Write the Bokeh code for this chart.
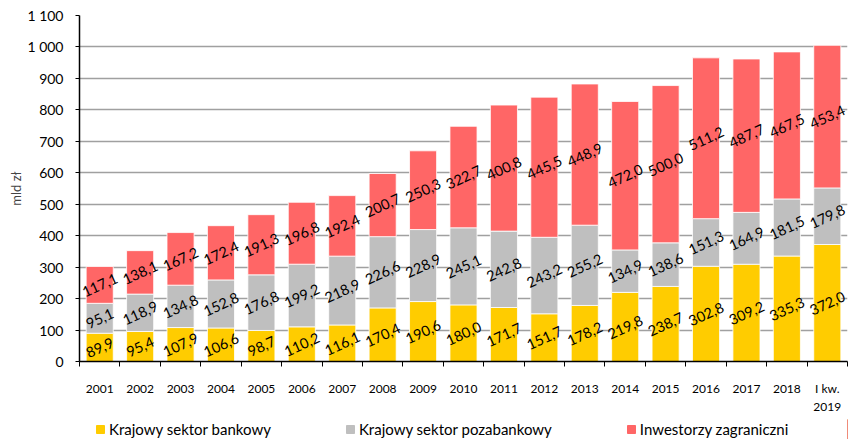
from bokeh.plotting import figure
from bokeh.layouts import column
from bokeh.models import (ColumnDataSource, FixedTicker, Legend, LegendItem,
                          CustomJSTickFormatter, Range1d)
from bokeh.core.properties import value
from bokeh.embed import file_html
from bokeh.resources import INLINE

years = ["2001", "2002", "2003", "2004", "2005", "2006", "2007", "2008", "2009",
         "2010", "2011", "2012", "2013", "2014", "2015", "2016", "2017", "2018",
         "I kw.\n2019"]
bank = [89.9, 95.4, 107.9, 106.6, 98.7, 110.2, 116.1, 170.4, 190.6, 180.0,
        171.7, 151.7, 178.2, 219.8, 238.7, 302.8, 309.2, 335.3, 372.0]
nonbank = [95.1, 118.9, 134.8, 152.8, 176.8, 199.2, 218.9, 226.6, 228.9, 245.1,
           242.8, 243.2, 255.2, 134.9, 138.6, 151.3, 164.9, 181.5, 179.8]
foreign = [117.1, 138.1, 167.2, 172.4, 191.3, 196.8, 192.4, 200.7, 250.3, 322.7,
           400.8, 445.5, 448.9, 472.0, 500.0, 511.2, 487.7, 467.5, 453.4]
series_names = ["Krajowy sektor bankowy", "Krajowy sektor pozabankowy",
                "Inwestorzy zagraniczni"]
colors = ["#FFCC00", "#BFBFBF", "#FF6666"]
y_ticks = list(range(0, 1101, 100))

FONT = "Lato"
n = len(years)
xs = [i + 0.5 for i in range(n)]

src = ColumnDataSource(dict(x=xs, bank=bank, nonbank=nonbank, foreign=foreign))

p = figure(frame_width=768, frame_height=346, output_backend="svg",
           toolbar_location=None, x_range=Range1d(0, n), y_range=Range1d(0, 1100),
           min_border_left=79, min_border_top=15, min_border_right=12,
           min_border_bottom=58)
p.outline_line_color = None
p.background_fill_color = "white"

renderers = p.vbar_stack(["bank", "nonbank", "foreign"], x="x", width=0.67,
                         color=colors, line_color="white", line_width=0.8,
                         source=src)

# data labels
def fmt(v):
    return f"{v:.1f}".replace(".", ",")

lx, ly, lt = [], [], []
for i in range(n):
    base = 0.0
    for arr in (bank, nonbank, foreign):
        v = arr[i]
        lx.append(xs[i])
        ly.append(base + v / 2)
        lt.append(fmt(v))
        base += v
p.text(x=lx, y=ly, text=lt, angle=0.43, text_align="center",
       text_baseline="middle", text_font=value(FONT), text_font_size="14.5px",
       text_color="#000000")

# x axis
xa = p.xaxis[0]
xa.ticker = FixedTicker(ticks=xs, minor_ticks=list(range(n + 1)))
xa.major_label_overrides = {x: y for x, y in zip(xs, years)}
xa.major_tick_out = 0
xa.major_tick_in = 0
xa.minor_tick_out = 5
xa.minor_tick_in = 0
xa.minor_tick_line_color = "#000000"
xa.axis_line_color = "#000000"
xa.axis_line_width = 1.5
xa.major_label_standoff = 14
xa.major_label_text_font = FONT
xa.major_label_text_font_size = "12px"
xa.major_label_text_color = "#000000"

# y axis
ya = p.yaxis[0]
ya.ticker = FixedTicker(ticks=y_ticks)
ya.formatter = CustomJSTickFormatter(
    code="return String(Math.round(tick)).replace(/\\B(?=(\\d{3})+(?!\\d))/g, ' ');")
ya.minor_tick_line_color = None
ya.major_tick_out = 4
ya.major_tick_in = 0
ya.major_tick_line_color = "#000000"
ya.axis_line_color = "#000000"
ya.axis_line_width = 1.5
ya.major_label_standoff = 12
ya.major_label_text_font = FONT
ya.major_label_text_font_size = "14px"
ya.major_label_text_color = "#000000"
ya.axis_label = "mld zł"
ya.axis_label_text_font = FONT
ya.axis_label_text_font_style = "normal"
ya.axis_label_text_font_size = "13px"
ya.axis_label_standoff = 0

p.xgrid.grid_line_color = None
p.ygrid.ticker = FixedTicker(ticks=y_ticks)
p.ygrid.grid_line_color = "#A0A0A0"
p.ygrid.grid_line_width = 1.5

# legend in its own strip below the chart (same frame geometry as the chart)
lg = figure(frame_width=768, frame_height=20, output_backend="svg",
            toolbar_location=None, x_range=Range1d(0, 1), y_range=Range1d(0, 1),
            x_axis_location=None, y_axis_location=None,
            min_border_left=79, min_border_right=12, min_border_top=0,
            min_border_bottom=0)
lg.outline_line_color = None
lg.xgrid.visible = False
lg.ygrid.visible = False
# key swatches: renderers whose marks sit outside the visible strip
key_src = ColumnDataSource(dict(x=[5.0], top=[1.0]))
lg_renderers = [lg.vbar(x="x", top="top", width=0.5, color=c, source=key_src)
                for c in colors]

legend = Legend(items=[LegendItem(label=series_names[i], renderers=[lg_renderers[i]])
                       for i in range(3)],
                orientation="horizontal", location=(16, 1),
                label_text_font=FONT, label_text_font_size="15px",
                label_text_color="#000000", glyph_width=10, glyph_height=10,
                label_height=12, label_standoff=4, spacing=74,
                border_line_color=None, background_fill_alpha=0,
                padding=0, margin=0)
lg.add_layout(legend, "center")

layout = column(p, lg, spacing=0)
open("out.html", "w").write(file_html(layout, INLINE))
